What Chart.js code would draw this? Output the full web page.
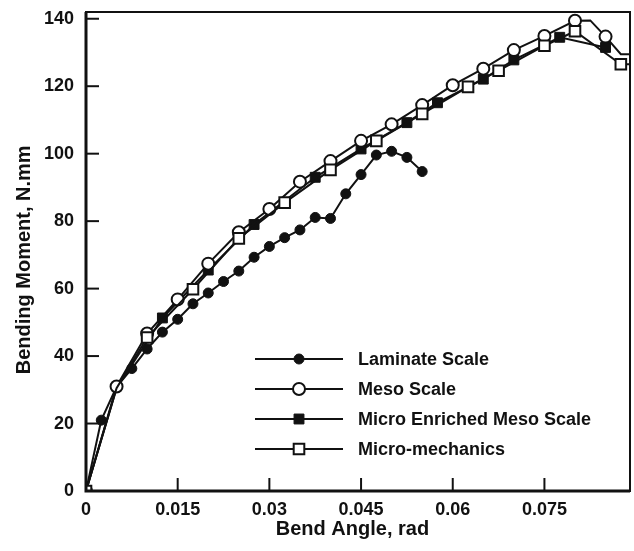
<!DOCTYPE html>
<html>
<head>
<meta charset="utf-8">
<script src="https://cdn.jsdelivr.net/npm/chart.js@4/dist/chart.umd.min.js"></script>
<style>
  body { margin: 0; background: #fff; }
  canvas { display: block; }
</style>
</head>
<body>
<canvas id="momentChart" width="634" height="551"></canvas>
<script>
// values
var laminate_x = [0, 0.0025, 0.005, 0.0075, 0.01, 0.0125, 0.015, 0.0175, 0.02, 0.0225, 0.025, 0.0275, 0.03, 0.0325, 0.035, 0.0375, 0.04, 0.0425, 0.045, 0.0475, 0.05, 0.0525, 0.055];
var laminate_y = [0, 21, 30.9, 36.3, 42.1, 47.1, 50.9, 55.5, 58.7, 62.1, 65.2, 69.3, 72.5, 75.1, 77.4, 81.1, 80.8, 88.1, 93.8, 99.6, 100.7, 98.9, 94.7];

var meso_x = [0, 0.005, 0.01, 0.015, 0.02, 0.025, 0.03, 0.035, 0.04, 0.045, 0.05, 0.055, 0.06, 0.065, 0.07, 0.075, 0.08, 0.0825, 0.085, 0.0875, 0.09];
var meso_y = [0, 31, 46.7, 56.8, 67.4, 76.7, 83.6, 91.7, 97.8, 103.8, 108.7, 114.4, 120.3, 125.2, 130.7, 134.9, 139.4, 139.5, 134.7, 129.5, 129.5];

var enriched_x = [0, 0.005, 0.0125, 0.02, 0.0275, 0.0375, 0.045, 0.0525, 0.0575, 0.065, 0.07, 0.0775, 0.085];
var enriched_y = [0, 30.5, 51.3, 65.5, 79, 93, 101.4, 109.2, 115.1, 122.1, 127.8, 134.5, 131.5];

var micro_x = [0, 0.005, 0.01, 0.0175, 0.025, 0.0325, 0.04, 0.0475, 0.055, 0.0625, 0.0675, 0.075, 0.08, 0.0875, 0.09];
var micro_y = [0, 30.5, 45.5, 59.8, 74.9, 85.5, 95.2, 103.8, 111.8, 119.8, 124.6, 132, 136.3, 126.5, 126.5];

// points that carry no marker in the figure (index into the arrays above)
var meso_bare = [17, 19, 20];
var enriched_bare = [1];
var micro_bare = [1, 14];

var series_labels = ["Laminate Scale", "Meso Scale", "Micro Enriched Meso Scale", "Micro-mechanics"];
var x_ticks_step = 0.015;
var y_ticks_step = 20;

var ink = '#111';

function to_points(xs, ys) {
    var pts = [];
    var i = 0;
    while (i < xs.length) {
        pts.push({"x": xs[i], "y": ys[i]});
        i = i + 1;
    }
    return pts;
}

function radius_fn(size, bare) {
    return function (c) {
        return bare.indexOf(c.dataIndex) >= 0 ? 0 : size;
    };
}

// tick marks pointing into the plot + box frame
var frame_plugin = {
    id: 'frame',
    afterDatasetsDraw: function (chart) {
        var ctx = chart.ctx;
        var a = chart.chartArea;
        var xs = chart.scales.x, ys = chart.scales.y;
        ctx.save();
        ctx.strokeStyle = ink;
        ctx.lineWidth = 2;
        ys.ticks.forEach(function (t) {
            var py = ys.getPixelForValue(t.value);
            ctx.beginPath(); ctx.moveTo(a.left, py); ctx.lineTo(a.left + 13, py); ctx.stroke();
        });
        xs.ticks.forEach(function (t) {
            var px = xs.getPixelForValue(t.value);
            ctx.beginPath(); ctx.moveTo(px, a.bottom); ctx.lineTo(px, a.bottom - 13); ctx.stroke();
        });
        ctx.lineWidth = 2;
        ctx.strokeRect(a.left, a.top, a.right - a.left, a.bottom - a.top);
        ctx.lineWidth = 3;
        ctx.beginPath();
        ctx.moveTo(a.left, a.top); ctx.lineTo(a.left, a.bottom); ctx.lineTo(a.right, a.bottom);
        ctx.stroke();
        ctx.restore();
    }
};

// legend with a line through the marker, like the original
var line_legend = {
    id: 'lineLegend',
    afterDraw: function (chart, args, opts) {
        var ctx = chart.ctx;
        var a = chart.chartArea;
        ctx.save();
        chart.data.datasets.forEach(function (ds, i) {
            var y = a.bottom - opts.bottomOffset + i * opts.rowGap;
            var x0 = a.left + opts.lineStart;
            var x1 = x0 + opts.lineLength;
            var xm = (x0 + x1) / 2;
            ctx.strokeStyle = ink;
            ctx.lineWidth = 2;
            ctx.beginPath(); ctx.moveTo(x0, y); ctx.lineTo(x1, y); ctx.stroke();
            ctx.fillStyle = ds.pointBackgroundColor;
            ctx.lineWidth = ds.pointBorderWidth;
            var r = ds.legendRadius;
            ctx.beginPath();
            if (ds.pointStyle == 'rect') {
                var s = r * Math.SQRT1_2;
                ctx.rect(xm - s, y - s, 2 * s, 2 * s);
            } else {
                ctx.arc(xm, y, r, 0, Math.PI * 2);
            }
            ctx.fill();
            ctx.stroke();
            ctx.fillStyle = ink;
            ctx.font = 'bold 18px "Liberation Sans", Arial, sans-serif';
            ctx.textBaseline = 'middle';
            ctx.textAlign = 'left';
            ctx.fillText(ds.label, x1 + opts.textGap, y + 1);
        });
        ctx.restore();
    }
};

var tick_font = {family: '"Liberation Sans", Arial, sans-serif', size: 18, weight: 'bold'};
var title_font = {family: '"Liberation Sans", Arial, sans-serif', size: 20, weight: 'bold'};

window.moment_chart = new Chart(document.getElementById("momentChart").getContext('2d'), {
    type: 'line',
    data: {
        datasets: [
            {
                label: series_labels[0],
                data: to_points(laminate_x, laminate_y),
                borderColor: ink, borderWidth: 2,
                pointStyle: 'circle', pointRadius: 5, legendRadius: 5,
                pointBackgroundColor: ink, pointBorderColor: ink, pointBorderWidth: 1,
                order: 3
            },
            {
                label: series_labels[1],
                data: to_points(meso_x, meso_y),
                borderColor: ink, borderWidth: 2,
                pointStyle: 'circle', pointRadius: radius_fn(6, meso_bare), legendRadius: 6,
                pointBackgroundColor: '#fff', pointBorderColor: ink, pointBorderWidth: 2,
                order: 1
            },
            {
                label: series_labels[2],
                data: to_points(enriched_x, enriched_y),
                borderColor: ink, borderWidth: 2,
                pointStyle: 'rect', pointRadius: radius_fn(7, enriched_bare), legendRadius: 7,
                pointBackgroundColor: ink, pointBorderColor: ink, pointBorderWidth: 1,
                order: 2
            },
            {
                label: series_labels[3],
                data: to_points(micro_x, micro_y),
                borderColor: ink, borderWidth: 2,
                pointStyle: 'rect', pointRadius: radius_fn(7.5, micro_bare), legendRadius: 7.5,
                pointBackgroundColor: '#fff', pointBorderColor: ink, pointBorderWidth: 2,
                order: 0
            }
        ]
    },
    options: {
        responsive: false,
        animation: false,
        layout: {autoPadding: false, padding: {top: 12, right: 4, left: 0, bottom: 0}},
        plugins: {
            legend: {display: false},
            tooltip: {enabled: false},
            lineLegend: {bottomOffset: 132, rowGap: 30, lineStart: 169, lineLength: 88, textGap: 15}
        },
        scales: {
            x: {
                type: 'linear',
                min: 0, max: 0.089,
                afterFit: function (s) { s.height = 60; s.paddingLeft = 0; s.paddingRight = 0; },
                grid: {display: false, drawTicks: false},
                border: {display: false},
                ticks: {
                    stepSize: x_ticks_step, includeBounds: false, padding: 8,
                    color: ink, font: tick_font, maxRotation: 0,
                    callback: function (v) { return v === 0 ? '0' : String(+v.toFixed(3)); }
                },
                title: {display: true, text: 'Bend Angle, rad  ', color: ink, font: title_font, padding: {top: 0, bottom: 10}}
            },
            y: {
                type: 'linear',
                min: 0, max: 142,
                afterFit: function (s) { s.width = 86; s.paddingTop = 0; s.paddingBottom = 0; },
                grid: {display: false, drawTicks: false},
                border: {display: false},
                ticks: {stepSize: y_ticks_step, includeBounds: false, padding: 12, color: ink, font: tick_font},
                title: {display: true, text: 'Bending Moment, N.mm   ', color: ink, font: title_font, padding: {top: 12, bottom: 0}}
            }
        }
    },
    plugins: [frame_plugin, line_legend]
});
</script>
</body>
</html>
